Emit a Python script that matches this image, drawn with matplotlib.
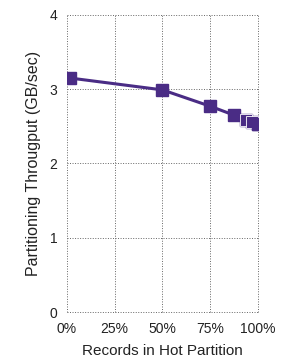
import matplotlib
matplotlib.use("Agg")
import matplotlib.pyplot as plt
from matplotlib.ticker import FuncFormatter

hot_fraction = [0.015, 0.5, 0.75, 0.875, 0.9375, 0.96875, 1.0]
throughput = [3.15, 2.99, 2.77, 2.65, 2.59, 2.56, 2.53]
xticks = [0, 0.25, 0.5, 0.75, 1.0]
yticks = [0, 1, 2, 3, 4]

plt.rcParams['font.family'] = ['Liberation Sans', 'DejaVu Sans']
color = '#4a2c85'

fig = plt.figure(figsize=(2.86, 3.62), dpi=100)
ax = fig.add_axes([0.234, 0.138, 0.668, 0.821])
ax.plot(hot_fraction, throughput, color=color, linewidth=2.2, marker='s',
        markersize=8.6, markerfacecolor=color, markeredgecolor=color, zorder=3)
# overlapping markers near 100% drawn with white edges
ax.plot(hot_fraction[4:6], throughput[4:6], linestyle='none', marker='s',
        markersize=8.6, markerfacecolor=color, markeredgecolor='white',
        markeredgewidth=0.6, zorder=4)
ax.plot(hot_fraction[-1:], throughput[-1:], linestyle='none', marker='s',
        markersize=8.6, markerfacecolor=color, markeredgecolor=color, zorder=5)

ax.set_xlim(0, 1.0)
ax.set_ylim(0, 4)
ax.set_xticks(xticks)
ax.set_yticks(yticks)
ax.xaxis.set_major_formatter(FuncFormatter(lambda v, p: f"{int(round(v*100))}%"))
for s in ax.spines.values():
    s.set_visible(False)
ax.grid(True, color='#666666', linestyle=(0, (1, 1.6)), linewidth=0.7)
ax.tick_params(axis='x', length=0, labelsize=10, colors='#222222', pad=7)
ax.tick_params(axis='y', length=0, labelsize=10, colors='#222222', pad=7)
ax.set_xlabel('Records in Hot Partition', fontsize=11, color='#222222', labelpad=6)
ax.set_ylabel('Partitioning Througput (GB/sec)', fontsize=11.5, color='#222222', labelpad=6)
for line in ax.get_xgridlines() + ax.get_ygridlines():
    line.set_clip_on(False)
fig.savefig('out.png', dpi=100)
